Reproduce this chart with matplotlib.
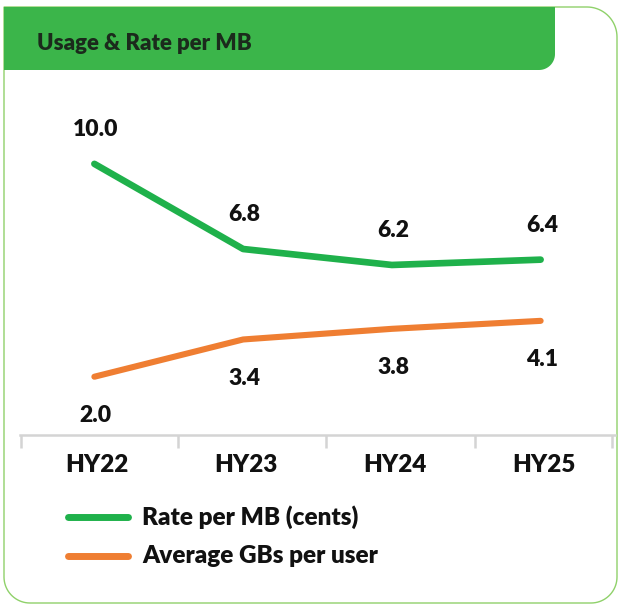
import numpy as np
import matplotlib
matplotlib.use("Agg")
import matplotlib.pyplot as plt
from matplotlib.path import Path
from matplotlib.patches import PathPatch
from matplotlib.transforms import Affine2D
from matplotlib.lines import Line2D

categories = ["HY22", "HY23", "HY24", "HY25"]
rate_per_mb = [10.0, 6.8, 6.2, 6.4]
avg_gb_per_user = [2.0, 3.4, 3.8, 4.1]
series_names = ["Rate per MB (cents)", "Average GBs per user"]
title = "Usage & Rate per MB"

GREEN = "#1fb14b"
ORANGE = "#ef7e32"
HEADER = "#3bb54a"
BORDER = "#8fd16a"
AXIS = "#d4d4d4"
TEXT = "#111111"
FONT = ["Lato", "DejaVu Sans"]
WEIGHT = "heavy"

W, H = 620, 607
fig = plt.figure(figsize=(W / 100, H / 100), dpi=100)
fig.patch.set_facecolor("white")

# pixel transform (origin top-left)
pix = Affine2D().scale(1 / W, -1 / H).translate(0, 1) + fig.transFigure


def rounded_path(x0, y0, x1, y1, r_tl, r_tr, r_br, r_bl, n=20):
    pts = []
    def arc(cx, cy, r, a0, a1):
        if r <= 0:
            return [(cx, cy)]
        t = np.linspace(np.radians(a0), np.radians(a1), n)
        return list(zip(cx + r * np.cos(t), cy + r * np.sin(t)))
    pts += arc(x0 + r_tl, y0 + r_tl, r_tl, 180, 270)
    pts += arc(x1 - r_tr, y0 + r_tr, r_tr, 270, 360)
    pts += arc(x1 - r_br, y1 - r_br, r_br, 0, 90)
    pts += arc(x0 + r_bl, y1 - r_bl, r_bl, 90, 180)
    pts.append(pts[0])
    codes = [Path.MOVETO] + [Path.LINETO] * (len(pts) - 2) + [Path.CLOSEPOLY]
    return Path(pts, codes)


card = PathPatch(rounded_path(4, 7, 617, 603, 0, 30, 26, 26), transform=pix,
                 facecolor="white", edgecolor=BORDER, lw=1.0, zorder=-3)
fig.patches.append(card)
header = PathPatch(rounded_path(4, 7, 555, 70, 0, 0, 16, 0), transform=pix,
                   facecolor=HEADER, edgecolor="none", zorder=-2)
fig.patches.append(header)
fig.text(37 / W, 1 - 43 / H, title, fontsize=16, fontweight=WEIGHT,
         color="#1b2a1c", family=FONT, va="center", ha="left")

# axes
ax = fig.add_axes([20 / W, 1 - 435 / H, 595 / W, 335 / H])
ax.set_facecolor("none")
x = np.arange(len(categories))
ax.plot(x, rate_per_mb, color=GREEN, lw=4.8, solid_capstyle="round",
        solid_joinstyle="round", zorder=3)
ax.plot(x, avg_gb_per_user, color=ORANGE, lw=4.4, solid_capstyle="round",
        solid_joinstyle="round", zorder=3)
ax.set_xlim(-0.5, len(categories) - 0.5)
ax.set_ylim(-0.19, 12.4)

for xi, v in zip(x, rate_per_mb):
    ax.annotate(f"{v:.1f}", (xi, v), xytext=(1, 24.5), textcoords="offset points",
                ha="center", va="center", fontsize=16.5, fontweight=WEIGHT,
                color=TEXT, family=FONT)
for xi, v in zip(x, avg_gb_per_user):
    ax.annotate(f"{v:.1f}", (xi, v), xytext=(1, -28), textcoords="offset points",
                ha="center", va="center", fontsize=16.5, fontweight=WEIGHT,
                color=TEXT, family=FONT)

for s in ["top", "right", "left"]:
    ax.spines[s].set_visible(False)
ax.spines["bottom"].set_color(AXIS)
ax.spines["bottom"].set_linewidth(1.8)
ax.set_yticks([])
bounds = np.arange(-0.5, len(categories)) + 0.06
bounds[0], bounds[-1] = -0.49, len(categories) - 0.52
ax.set_xticks(bounds, minor=False)
ax.set_xticklabels([])
ax.tick_params(axis="x", which="major", length=9, width=1.8, color=AXIS)
ax.set_xticks(x + 0.02, minor=True)
ax.set_xticklabels(categories, minor=True, fontsize=17.5, fontweight=WEIGHT,
                   color=TEXT, family=FONT)
ax.tick_params(axis="x", which="minor", length=0, pad=14)

# legend (manual)
for (yy, col, name) in [(517, GREEN, series_names[0]), (556, ORANGE, series_names[1])]:
    fig.add_artist(Line2D([68, 128], [yy, yy], transform=pix, color=col, lw=5,
                          solid_capstyle="round"))
    fig.text(142 / W, 1 - yy / H, name, fontsize=17.5, fontweight=WEIGHT,
             color=TEXT, family=FONT, va="center", ha="left")

fig.savefig("out.png", dpi=100, facecolor="white")
